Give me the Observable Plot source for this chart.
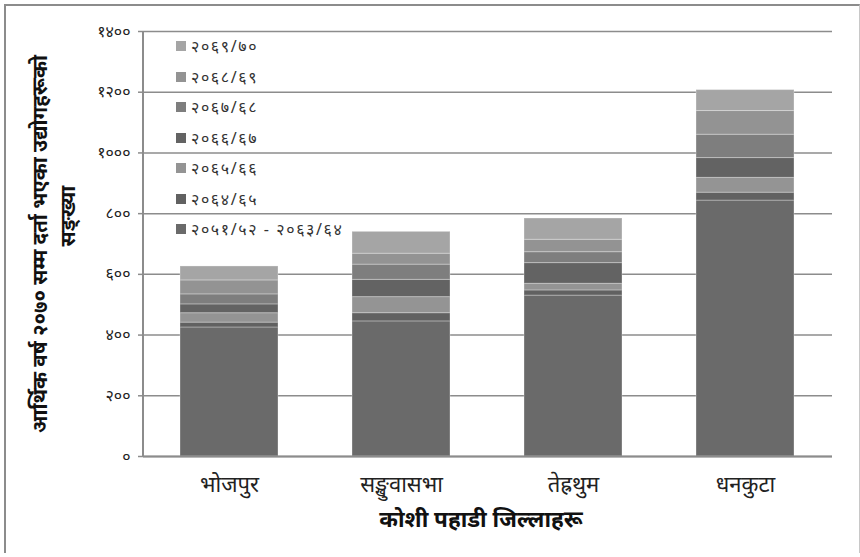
<!DOCTYPE html>
<html>
<head>
<meta charset="utf-8">
<script src="https://cdn.jsdelivr.net/npm/d3@7"></script>
<script src="https://cdn.jsdelivr.net/npm/@observablehq/plot@0.6"></script>
<style>
  body { margin: 0; background: #fff; font-family: "Noto Sans", "DejaVu Sans", sans-serif; }
  #wrap { position: relative; width: 860px; height: 557px; overflow: hidden; }
  #border { position: absolute; left: 4px; top: 4px; width: 853px; height: 547px;
            border-left: 2px solid #8c8c8c; border-top: 2px solid #8c8c8c; border-right: 1px solid #c8c8c8;
            pointer-events: none; }
  #legend { position: absolute; left: 176px; top: 0; font-size: 16px; letter-spacing: 1.6px; color: #333; }
  .li { position: absolute; display: flex; align-items: center; white-space: nowrap; height: 22px; }
  .sw { width: 10px; height: 10px; margin-right: 5px; }
</style>
</head>
<body>
<div id="wrap"><div id="border"></div></div>
<script>
// ---- data ----
const districts = ["भोजपुर", "सङ्खुवासभा", "तेह्रथुम", "धनकुटा"];
const seriesLabels = ["२०५१/५२ - २०६३/६४", "२०६४/६५", "२०६५/६६", "२०६६/६७", "२०६७/६८", "२०६८/६९", "२०६९/७०"];
const seriesColors = ["#6a6a6a", "#616161", "#949494", "#636363", "#7e7e7e", "#939393", "#a5a5a5"];
const base   = [425, 445, 530, 843];
const s6465  = [16, 27, 17, 26];
const s6566  = [31, 53, 22, 49];
const s6667  = [29, 57, 68, 65];
const s6768  = [33, 50, 36, 77];
const s6869  = [46, 36, 41, 78];
const s6970  = [46, 72, 70, 69];
const yTicks = [0, 200, 400, 600, 800, 1000, 1200, 1400];
const yTitle1 = "आर्थिक वर्ष २०७० सम्म दर्ता भएका उद्योगहरूको";
const yTitle2 = "सङ्ख्या";
const xTitle = "कोशी पहाडी जिल्लाहरू";

const seriesValues = [base, s6465, s6566, s6667, s6768, s6869, s6970];
const rows = [];
districts.forEach((d, i) => {
  seriesValues.forEach((vals, j) => rows.push({district: d, series: seriesLabels[j], value: vals[i]}));
});

const devDigits = "०१२३४५६७८९";
const toDev = n => String(n).replace(/\d/g, c => devDigits[+c]);

const W = 860, H = 557;
const mL = 143, mR = 28, mT = 31, mB = 101;

const yAxisLine = (index, scales, values, dims) => {
  const g = d3.create("svg:g");
  g.append("line")
    .attr("x1", dims.marginLeft).attr("x2", dims.marginLeft)
    .attr("y1", scales.y(0)).attr("y2", scales.y(1400))
    .attr("stroke", "#8c8c8c").attr("stroke-width", 2);
  return g.node();
};

const chart = Plot.plot({
  width: W, height: H,
  marginLeft: mL, marginRight: mR, marginTop: mT, marginBottom: mB,
  style: {fontFamily: "'Noto Sans', 'DejaVu Sans', sans-serif", background: "transparent", overflow: "visible"},
  x: {domain: districts, paddingInner: 0.43, paddingOuter: 0.215, label: null},
  y: {domain: [0, 1400], label: null},
  color: {domain: seriesLabels, range: seriesColors},
  marks: [
    Plot.ruleY(yTicks, {stroke: "#8c8c8c", strokeWidth: 1.5}),
    Plot.barY(rows, {x: "district", y: "value", fill: "series", stroke: "#ffffff", strokeOpacity: 0.3, strokeWidth: 1, inset: 0}),
    Plot.ruleY([0], {stroke: "#8c8c8c", strokeWidth: 2}),
    yAxisLine,
    Plot.axisY({ticks: yTicks, tickSize: 5, tickPadding: 8, tickFormat: toDev, fontSize: 16, stroke: "#8c8c8c", strokeWidth: 1.5, fill: "#222", label: null}),
    Plot.axisX({tickSize: 0, tickPadding: 20, fontSize: 22, fill: "#222", label: null}),
    Plot.text([yTitle1], {frameAnchor: "left", textAnchor: "middle", dx: -103, dy: 0, rotate: -90, fontSize: 20.5, fontWeight: "bold", fill: "#111"}),
    Plot.text([yTitle2], {frameAnchor: "left", textAnchor: "middle", dx: -75, dy: -28, rotate: -90, fontSize: 20.5, fontWeight: "bold", fill: "#111"}),
    Plot.text([xTitle], {frameAnchor: "bottom", textAnchor: "middle", dx: -7, dy: 70, fontSize: 22.5, fontWeight: "bold", fill: "#111"})
  ]
});

const wrap = document.getElementById("wrap");
wrap.insertBefore(chart, wrap.firstChild);

// legend inside plot area (reverse order: top = last series)
const color = chart.scale("color");
const legend = d3.select(wrap).append("div").attr("id", "legend");
const legendOrder = color.domain.slice().reverse();
legendOrder.forEach((lab, i) => {
  const item = legend.append("div").attr("class", "li").style("top", (35 + i * 30.5) + "px");
  item.append("div").attr("class", "sw").style("background", color.apply(lab));
  item.append("span").text(lab);
});
</script>
</body>
</html>
